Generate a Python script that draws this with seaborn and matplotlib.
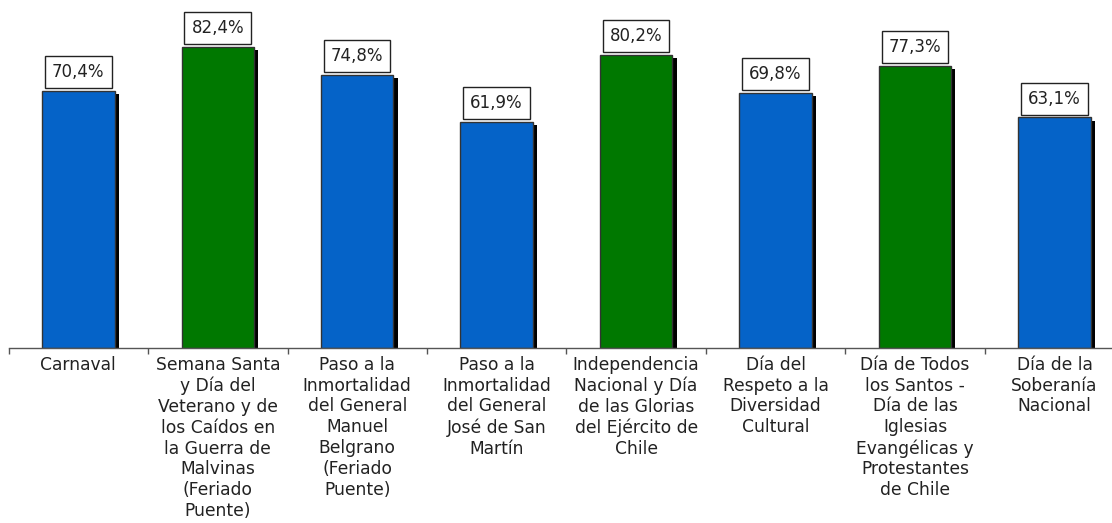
import matplotlib
matplotlib.use("Agg")
import matplotlib.pyplot as plt
import matplotlib.patheffects as pe
import seaborn as sns
import pandas as pd

# data
feriados = [
    "Carnaval",
    "Semana Santa\ny Día del\nVeterano y de\nlos Caídos en\nla Guerra de\nMalvinas\n(Feriado\nPuente)",
    "Paso a la\nInmortalidad\ndel General\nManuel\nBelgrano\n(Feriado\nPuente)",
    "Paso a la\nInmortalidad\ndel General\nJosé de San\nMartín",
    "Independencia\nNacional y Día\nde las Glorias\ndel Ejército de\nChile",
    "Día del\nRespeto a la\nDiversidad\nCultural",
    "Día de Todos\nlos Santos -\nDía de las\nIglesias\nEvangélicas y\nProtestantes\nde Chile",
    "Día de la\nSoberanía\nNacional",
]
porcentajes = [70.4, 82.4, 74.8, 61.9, 80.2, 69.8, 77.3, 63.1]
grupo = ["azul", "verde", "azul", "azul", "verde", "azul", "verde", "azul"]

colores = {"azul": "#0563c8", "verde": "#007800"}
texto = "#222222"

plt.rcParams["font.family"] = ["DejaVu Sans"]

df = pd.DataFrame({"feriado": feriados, "valor": porcentajes, "grupo": grupo})

fig = plt.figure(figsize=(11.12, 5.23), dpi=100)
ax = fig.add_axes([8.6 / 1112, 175.5 / 523, 1115.6 / 1112, 347.5 / 523])

sns.barplot(data=df, x="feriado", y="valor", hue="grupo", palette=colores,
            saturation=1, dodge=False, legend=False, width=0.52,
            edgecolor="#333333", linewidth=1.0, ax=ax)

sombra = [pe.SimplePatchShadow(offset=(3, -2.3), shadow_rgbFace="black", alpha=1.0),
          pe.Normal()]
for barra in ax.patches:
    barra.set_path_effects(sombra)

for i, v in enumerate(porcentajes):
    ax.annotate(f"{v:.1f}".replace(".", ",") + "%", xy=(i, v), xytext=(0, 7),
                textcoords="offset points", ha="center", va="bottom",
                fontsize=12, color=texto,
                bbox=dict(boxstyle="square,pad=0.42", facecolor="white",
                          edgecolor="#222222", linewidth=1.0))

ax.set_xlim(-0.5, len(feriados) - 0.5)
ax.set_ylim(0, 95.3)

for lado in ["top", "right", "left"]:
    ax.spines[lado].set_visible(False)
ax.spines["bottom"].set_color("#555555")
ax.spines["bottom"].set_linewidth(1.0)

ax.set_yticks([])
ax.set_xlabel("")
ax.set_ylabel("")
ax.set_xticks(range(len(feriados)))
ax.set_xticks([i - 0.5 for i in range(len(feriados) + 1)], minor=True)
ax.tick_params(axis="x", which="major", length=0, pad=6, labelsize=12.3, labelcolor=texto)
ax.tick_params(axis="x", which="minor", length=4, width=1, color="#555555")
for t in ax.get_xticklabels():
    t.set_linespacing(1.2)
    t.set_va("top")

fig.savefig("out.png", dpi=100)
